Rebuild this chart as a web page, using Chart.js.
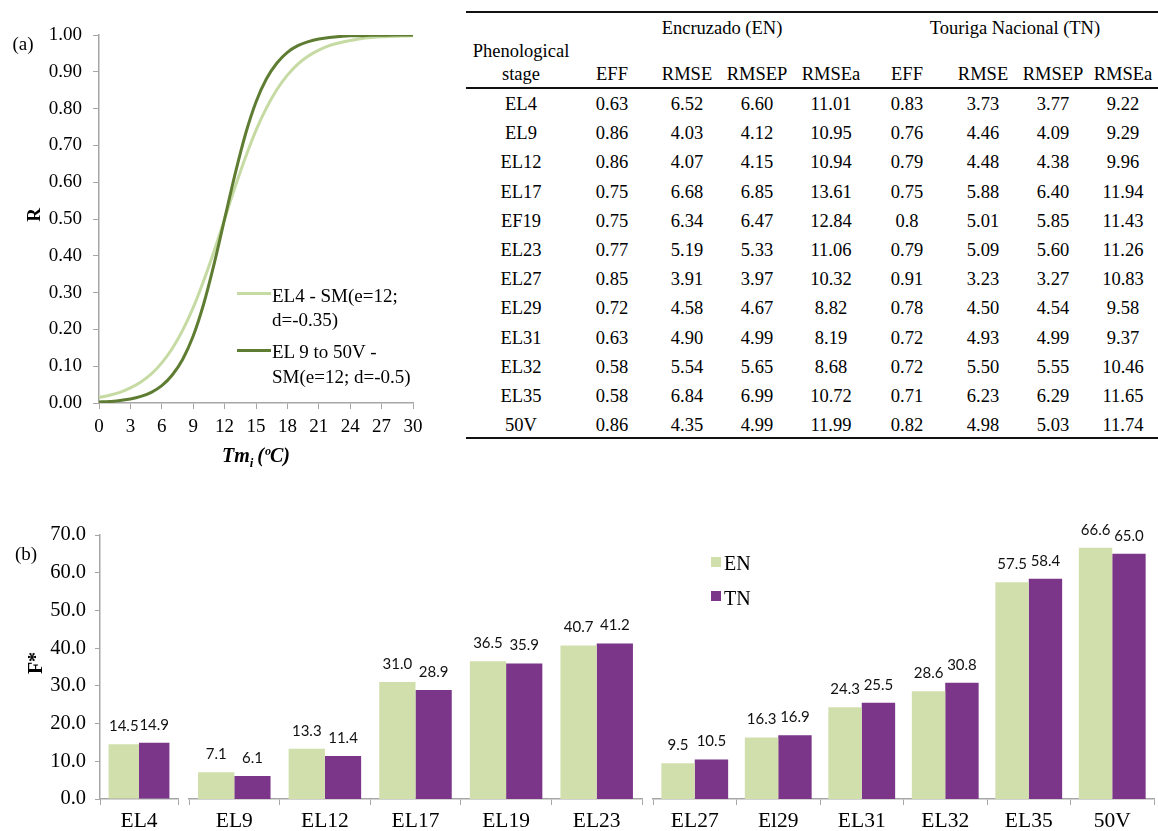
<!DOCTYPE html>
<html>
<head>
<meta charset="utf-8">
<title>Phenological models</title>
<script src="https://cdn.jsdelivr.net/npm/chart.js@4.4.1/dist/chart.umd.min.js"></script>
<style>
  html, body { margin: 0; padding: 0; background: #fff; }
  #page { position: relative; width: 1158px; height: 831px; overflow: hidden;
          font-family: 'Liberation Serif', 'Times New Roman', serif; color: #000; }
  canvas { position: absolute; }
  .t { position: absolute; white-space: nowrap; line-height: 1; }
  .c { transform: translate(-50%, -50%); }
  .l { transform: translate(0, -50%); }
  .tbl { font-size: 18.5px; }
  .rule { position: absolute; left: 466px; width: 692px; height: 1.6px; background: #111; }
  .swatch { position: absolute; height: 3px; }
  .sq { position: absolute; width: 10px; height: 10px; }
</style>
</head>
<body>
<div id="page">
  <canvas id="curves" width="460" height="480" style="left:0;top:0"></canvas>
  <canvas id="barsA" width="182" height="331" style="left:0;top:500px"></canvas>
  <canvas id="barsB" width="461" height="331" style="left:185px;top:500px"></canvas>
  <canvas id="barsC" width="509" height="331" style="left:649px;top:500px"></canvas>

  <!-- panel (a) labels -->
  <div class="t c" style="left:23px;top:43px;font-size:19px">(a)</div>
  <div class="t c" style="left:33px;top:215px;font-size:19px;font-weight:bold;transform:translate(-50%,-50%) rotate(-90deg)">R</div>
  <div class="t c" style="left:256px;top:457px;font-size:20px;font-weight:bold;font-style:italic">Tm<sub style="font-size:13px">i</sub>&thinsp;(ºC)</div>

  <!-- panel (a) legend -->
  <div class="swatch" style="left:237px;top:292px;width:34px;background:#c6dba3"></div>
  <div class="t l" style="left:272px;top:295px;font-size:19px">EL4 - SM(e=12;</div>
  <div class="t l" style="left:272px;top:319px;font-size:19px">d=-0.35)</div>
  <div class="swatch" style="left:237px;top:349px;width:34px;background:#5f7d32"></div>
  <div class="t l" style="left:272px;top:351px;font-size:19px">EL 9 to 50V -</div>
  <div class="t l" style="left:272px;top:376px;font-size:19px">SM(e=12; d=-0.5)</div>

  <!-- table rules -->
  <div class="rule" style="top:11px"></div>
  <div class="rule" style="top:87px"></div>
  <div class="rule" style="top:437px"></div>
  <div id="table"></div>

  <!-- panel (b) labels -->
  <div class="t c" style="left:26px;top:553px;font-size:19px">(b)</div>
  <div class="t c" style="left:35px;top:663px;font-size:20px;font-weight:bold;transform:translate(-50%,-50%) rotate(-90deg)">F*</div>

  <!-- panel (b) legend -->
  <div class="sq" style="left:711px;top:557px;background:#d0dfab"></div>
  <div class="t l" style="left:724px;top:563px;font-size:20px">EN</div>
  <div class="sq" style="left:711px;top:591px;background:#7b3589"></div>
  <div class="t l" style="left:724px;top:598px;font-size:20px">TN</div>
</div>

<script>
// ---- Panel (a): response R versus mean temperature Tmi ----
const tempC = [0, 1, 2, 3, 4, 5, 6, 7, 8, 9, 10, 11, 12, 13, 14, 15, 16, 17, 18, 19, 20,
               21, 22, 23, 24, 25, 26, 27, 28, 29, 30];
const rEL4 = [0.015, 0.021, 0.029, 0.041, 0.057, 0.079, 0.109, 0.148, 0.198, 0.259, 0.332,
              0.413, 0.500, 0.587, 0.668, 0.741, 0.802, 0.852, 0.891, 0.921, 0.943,
              0.959, 0.971, 0.979, 0.985, 0.990, 0.993, 0.995, 0.996, 0.997, 0.998];
const rEL9to50V = [0.003, 0.004, 0.007, 0.011, 0.018, 0.029, 0.047, 0.076, 0.119, 0.182, 0.269,
                   0.378, 0.500, 0.622, 0.731, 0.818, 0.881, 0.924, 0.953, 0.971, 0.982,
                   0.989, 0.993, 0.996, 0.998, 0.998, 0.999, 0.999, 1.000, 1.000, 1.000];

// ---- Panel (b): forcing requirement F* per stage ----
const stagesEarly = ['EL4'];
const stagesMid = ['EL9', 'EL12', 'EL17', 'EL19', 'EL23'];
const stagesLate = ['EL27', 'El29', 'EL31', 'EL32', 'EL35', '50V'];
const fEN = [14.5, 7.1, 13.3, 31.0, 36.5, 40.7, 9.5, 16.3, 24.3, 28.6, 57.5, 66.6];
const fTN = [14.9, 6.1, 11.4, 28.9, 35.9, 41.2, 10.5, 16.9, 25.5, 30.8, 58.4, 65.0];

// ---- Table: model performance per stage ----
const tableStages = ['EL4', 'EL9', 'EL12', 'EL17', 'EF19', 'EL23', 'EL27', 'EL29', 'EL31', 'EL32', 'EL35', '50V'];
const enEFF   = ['0.63', '0.86', '0.86', '0.75', '0.75', '0.77', '0.85', '0.72', '0.63', '0.58', '0.58', '0.86'];
const enRMSE  = ['6.52', '4.03', '4.07', '6.68', '6.34', '5.19', '3.91', '4.58', '4.90', '5.54', '6.84', '4.35'];
const enRMSEP = ['6.60', '4.12', '4.15', '6.85', '6.47', '5.33', '3.97', '4.67', '4.99', '5.65', '6.99', '4.99'];
const enRMSEa = ['11.01', '10.95', '10.94', '13.61', '12.84', '11.06', '10.32', '8.82', '8.19', '8.68', '10.72', '11.99'];
const tnEFF   = ['0.83', '0.76', '0.79', '0.75', '0.8', '0.79', '0.91', '0.78', '0.72', '0.72', '0.71', '0.82'];
const tnRMSE  = ['3.73', '4.46', '4.48', '5.88', '5.01', '5.09', '3.23', '4.50', '4.93', '5.50', '6.23', '4.98'];
const tnRMSEP = ['3.77', '4.09', '4.38', '6.40', '5.85', '5.60', '3.27', '4.54', '4.99', '5.55', '6.29', '5.03'];
const tnRMSEa = ['9.22', '9.29', '9.96', '11.94', '11.43', '11.26', '10.83', '9.58', '9.37', '10.46', '11.65', '11.74'];
const metricHeads = ['EFF', 'RMSE', 'RMSEP', 'RMSEa', 'EFF', 'RMSE', 'RMSEP', 'RMSEa'];

Chart.defaults.font.family = "'Liberation Serif', 'Times New Roman', serif";
Chart.defaults.color = '#000';
const AXIS = '#a6a6a6';

// Panel (a) line chart
new Chart(document.getElementById('curves'), {
  type: 'line',
  data: {
    datasets: [
      { label: 'EL 9 to 50V - SM(e=12; d=-0.5)', data: tempC.map((t, i) => ({ x: t, y: rEL9to50V[i] })),
        borderColor: '#5f7d32', borderWidth: 3, pointRadius: 0, cubicInterpolationMode: 'monotone' },
      { label: 'EL4 - SM(e=12; d=-0.35)', data: tempC.map((t, i) => ({ x: t, y: rEL4[i] })),
        borderColor: '#c6dba3', borderWidth: 3, pointRadius: 0, cubicInterpolationMode: 'monotone' }
    ]
  },
  options: {
    responsive: false, animation: false,
    layout: { padding: { top: 35, right: 47, left: 0, bottom: 0 } },
    plugins: { legend: { display: false }, tooltip: { enabled: false } },
    scales: {
      x: {
        type: 'linear', min: 0, max: 30,
        ticks: { stepSize: 3, font: { size: 19 }, padding: 7, maxRotation: 0 },
        grid: { drawOnChartArea: false, drawTicks: true, tickLength: 6, color: AXIS },
        border: { color: AXIS, width: 1.5 },
        afterFit(s) { s.height = 77; }
      },
      y: {
        min: 0, max: 1,
        ticks: { stepSize: 0.1, font: { size: 19 }, padding: 11, callback: v => v.toFixed(2) },
        grid: { drawOnChartArea: false, drawTicks: true, tickLength: 6, color: AXIS },
        border: { color: AXIS, width: 1.5 },
        afterFit(s) { s.width = 99; }
      }
    }
  }
});

// Value labels above each bar
const barValueLabels = {
  id: 'barValueLabels',
  afterDatasetsDraw(chart) {
    const ctx = chart.ctx;
    ctx.save();
    ctx.font = '15px Lato, "Open Sans", sans-serif';
    ctx.fillStyle = '#111';
    ctx.textAlign = 'center';
    ctx.textBaseline = 'middle';
    chart.data.datasets.forEach((ds, i) => {
      chart.getDatasetMeta(i).data.forEach((bar, j) => {
        ctx.fillText(ds.data[j].toFixed(1), bar.x, bar.y - 18);
      });
    });
    ctx.restore();
  }
};

function barPanel(id, labels, en, tn, showY, catPct) {
  const yScale = {
    display: showY, min: 0, max: 70,
    ticks: { stepSize: 10, font: { size: 20.5 }, padding: 9, callback: v => v.toFixed(1) },
    grid: { drawOnChartArea: false, drawTicks: true, tickLength: 5, color: AXIS },
    border: { color: AXIS, width: 1.5 }
  };
  if (showY) yScale.afterFit = s => { s.width = 100; };
  new Chart(document.getElementById(id), {
    type: 'bar',
    data: {
      labels: labels,
      datasets: [
        { label: 'EN', data: en, backgroundColor: '#d0dfab', categoryPercentage: catPct, barPercentage: 1.0 },
        { label: 'TN', data: tn, backgroundColor: '#7b3589', categoryPercentage: catPct, barPercentage: 1.0 }
      ]
    },
    options: {
      responsive: false, animation: false,
      layout: { padding: { top: 35, left: showY ? 0 : 4, right: 4, bottom: 0 } },
      plugins: { legend: { display: false }, tooltip: { enabled: false } },
      scales: {
        x: {
          ticks: { font: { size: 21.5 }, padding: 3, maxRotation: 0, autoSkip: false },
          grid: { offset: true, drawOnChartArea: false, drawTicks: true, tickLength: 6, color: AXIS },
          border: { color: AXIS, width: 1.5 },
          afterFit(s) { s.height = 32; }
        },
        y: yScale
      }
    },
    plugins: [barValueLabels]
  });
}

barPanel('barsA', stagesEarly, fEN.slice(0, 1), fTN.slice(0, 1), true, 0.78);
barPanel('barsB', stagesMid, fEN.slice(1, 6), fTN.slice(1, 6), false, 0.8);
barPanel('barsC', stagesLate, fEN.slice(6), fTN.slice(6), false, 0.8);

// Table text
(function buildTable() {
  const host = document.getElementById('table');
  const colX = [521, 612, 687, 757, 831, 907, 983, 1053, 1123];
  function cell(text, x, y) {
    const d = document.createElement('div');
    d.className = 't c tbl';
    d.style.left = x + 'px';
    d.style.top = y + 'px';
    d.textContent = text;
    host.appendChild(d);
  }
  cell('Encruzado (EN)', 722, 28);
  cell('Touriga Nacional (TN)', 1015, 28);
  cell('Phenological', colX[0], 51);
  cell('stage', colX[0], 74);
  metricHeads.forEach((h, i) => cell(h, colX[i + 1], 74));
  const cols = [tableStages, enEFF, enRMSE, enRMSEP, enRMSEa, tnEFF, tnRMSE, tnRMSEP, tnRMSEa];
  tableStages.forEach((_, r) => {
    const y = 104 + r * 29.2;
    cols.forEach((col, c) => cell(col[r], colX[c], y));
  });
})();
</script>
</body>
</html>
